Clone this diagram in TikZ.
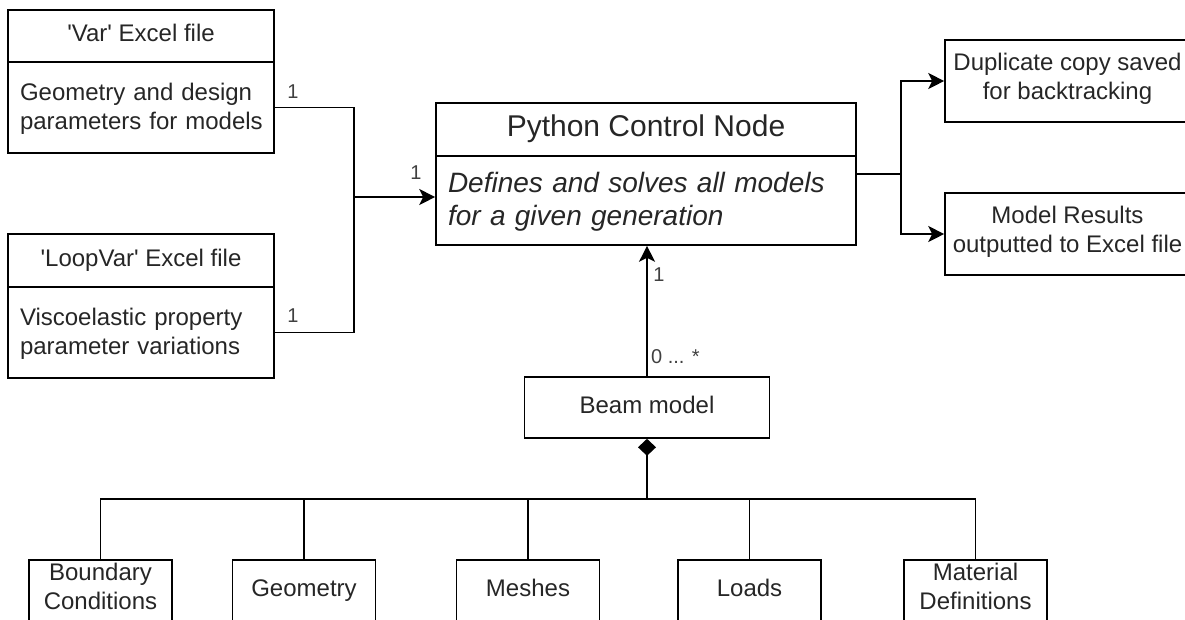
\documentclass[tikz,border=0pt]{standalone}
\usepackage{fontspec}
\setmainfont{Liberation Sans}
\usetikzlibrary{arrows.meta}
\tikzset{
  box/.style={draw, line width=1.6pt, inner ysep=0pt, inner xsep=4pt, text=black!85,
    font=\fontsize{24}{29}\selectfont, execute at begin node=\strut},
  bigbox/.style={box, font=\fontsize{28}{33}\selectfont},
  conn/.style={line width=1.6pt},
  arr/.style={conn, -{Stealth[length=16pt,width=16pt,inset=4pt]}},
  lbl/.style={inner sep=0pt, text=black!75, font=\fontsize{20}{24}\selectfont}
}
\begin{document}
\begin{tikzpicture}[x=1pt,y=-1pt]
\useasboundingbox (0,0) rectangle (1185,619);
\node[box,minimum width=266pt,minimum height=52pt] (varhead) at (141,36) {\textquotesingle Var\textquotesingle{} Excel file};
\node[box,text width=242pt,inner xsep=12pt,minimum height=91pt,align=left] (varbody) at (141,107.5) {\mbox{Geometry and design}\\\mbox{parameters for models}};
\node[box,minimum width=266pt,minimum height=53pt] (loophead) at (141,260.5) {\textquotesingle LoopVar\textquotesingle{} Excel file};
\node[box,text width=242pt,inner xsep=12pt,minimum height=91pt,align=left] (loopbody) at (141,332.5) {\mbox{Viscoelastic property}\\\mbox{parameter variations}};
\node[bigbox,minimum width=420pt,minimum height=53pt,font=\fontsize{30}{36}\selectfont] (pyhead) at (646,129.5) {Python Control Node};
\node[bigbox,text width=396pt,inner xsep=12pt,minimum height=89pt,align=left] (pybody) at (646,200.5) {\itshape Defines and solves all models\\\itshape for a given generation};
\node[box,minimum width=245pt,minimum height=82pt,align=center] (dup) at (1067.5,81) {Duplicate copy saved\\for backtracking};
\node[box,minimum width=245pt,minimum height=82pt,align=center] (results) at (1067.5,234) {Model Results\\outputted to Excel file};
\node[box,minimum width=245pt,minimum height=61pt] (beam) at (647,407.5) {Beam model};
\foreach \name/\x/\txt in {bcond/100.5/{Boundary\\Conditions}, geom/304/Geometry, mesh/528/Meshes, load/749.5/Loads, mat/975.5/{Material\\Definitions}}
  \node[box,minimum width=143pt,minimum height=62pt,align=center] (\name) at (\x,591) {\txt};
\coordinate (join) at (354,197);
\coordinate (fork) at (901,174);
\coordinate (hub) at (647,499);
\draw[conn] (varbody.east) -| (join);
\draw[conn] (loopbody.east) -| (join);
\draw[arr] (join) -- (join -| pybody.west);
\draw[conn] (fork -| pybody.east) -- (fork);
\draw[arr] (fork) |- (dup.west);
\draw[arr] (fork) |- (results.west);
\draw[arr] (beam.north) -- (beam.north |- pybody.south);
\draw[conn,-{Diamond[length=17pt,width=18pt]}] (hub) -- (beam.south);
\foreach \name in {bcond,geom,mesh,load,mat}
  \draw[conn] (hub) -| (\name.north);
\node[lbl] (lvar) at (293,92) {1};
\node[lbl] (lloop) at (293,316) {1};
\node[lbl] (ljoin) at (416,173) {1};
\node[lbl] (lpy) at (659,275) {1};
\node[lbl,anchor=west] (lbeam) at (651,357) {0 ... *};
\end{tikzpicture}
\end{document}
